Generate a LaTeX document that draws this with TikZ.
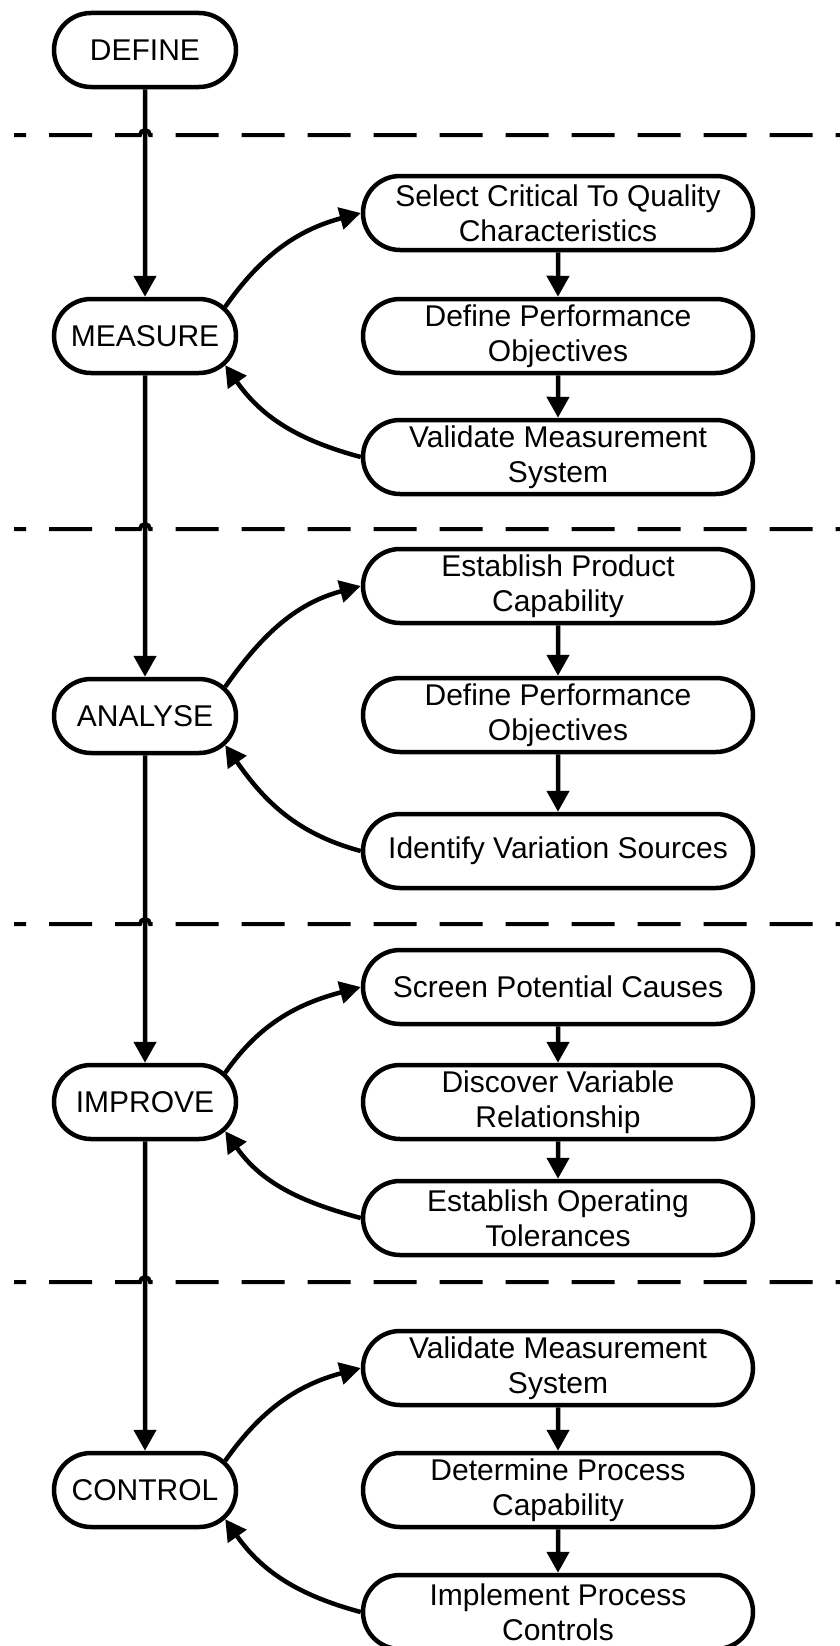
\documentclass[tikz,border=0pt]{standalone}
\usepackage{fontspec}
\setmainfont{Liberation Sans}
\usetikzlibrary{shapes.misc,arrows.meta}

\begin{document}
\begin{tikzpicture}[x=1pt, y=-1pt,
  phase/.style={rounded rectangle, draw, line width=4.5pt, minimum width=182pt, minimum height=74pt, inner sep=0pt, font=\fontsize{30}{35}\selectfont},
  task/.style={rounded rectangle, draw, line width=4.5pt, minimum width=390pt, minimum height=74pt, inner sep=0pt, align=center, font=\fontsize{30}{35}\selectfont},
  link/.style={line width=4.5pt, -{Triangle[length=21pt,width=22pt]}},
  divider/.style={line width=4pt, dash pattern=on 43pt off 23pt, dash phase=31pt}]
  \useasboundingbox (0,0) rectangle (840,1646);

  % phases
  \node[phase] (define) at (145,50) {DEFINE};
  \node[phase] (measure) at (145,336) {MEASURE};
  \node[phase] (analyse) at (145,716) {ANALYSE};
  \node[phase] (improve) at (145,1102) {IMPROVE};
  \node[phase] (control) at (145,1490) {CONTROL};

  % measure steps
  \node[task] (select) at (558,213) {Select Critical To Quality\\Characteristics};
  \node[task] (objectives) at (558,336) {Define Performance\\Objectives};
  \node[task] (msa) at (558,457) {Validate Measurement\\System};

  % analyse steps
  \node[task] (product) at (558,586) {Establish Product\\Capability};
  \node[task] (targets) at (558,715) {Define Performance\\Objectives};
  \node[task] (sources) at (558,851) {Identify Variation Sources};

  % improve steps
  \node[task] (screen) at (558,987) {Screen Potential Causes};
  \node[task] (discover) at (558,1102) {Discover Variable\\Relationship};
  \node[task] (tolerances) at (558,1218) {Establish Operating\\Tolerances};

  % control steps
  \node[task] (revalidate) at (558,1368) {Validate Measurement\\System};
  \node[task] (capability) at (558,1490) {Determine Process\\Capability};
  \node[task] (controls) at (558,1612) {Implement Process\\Controls};

  % main flow
  \draw[link] (define) -- (measure);
  \draw[link] (measure) -- (analyse);
  \draw[link] (analyse) -- (improve);
  \draw[link] (improve) -- (control);

  % section dividers with line jumps
  \foreach \y in {135,529,924,1282}
    \draw[divider] (14,\y) -- (140,\y) arc[start angle=180, end angle=0, radius=5pt] -- (840,\y);

  % loops
  \draw[link] (measure.20) to[out=55, in=195] (select.west);
  \draw[link] (select) -- (objectives);
  \draw[link] (objectives) -- (msa);
  \draw[link] (msa.west) to[out=165, in=-55] (measure.-20);

  \draw[link] (analyse.20) to[out=55, in=195] (product.west);
  \draw[link] (product) -- (targets);
  \draw[link] (targets) -- (sources);
  \draw[link] (sources.west) to[out=165, in=-55] (analyse.-20);

  \draw[link] (improve.20) to[out=55, in=195] (screen.west);
  \draw[link] (screen) -- (discover);
  \draw[link] (discover) -- (tolerances);
  \draw[link] (tolerances.west) to[out=165, in=-55] (improve.-20);

  \draw[link] (control.20) to[out=55, in=195] (revalidate.west);
  \draw[link] (revalidate) -- (capability);
  \draw[link] (capability) -- (controls);
  \draw[link] (controls.west) to[out=165, in=-55] (control.-20);
\end{tikzpicture}
\end{document}
